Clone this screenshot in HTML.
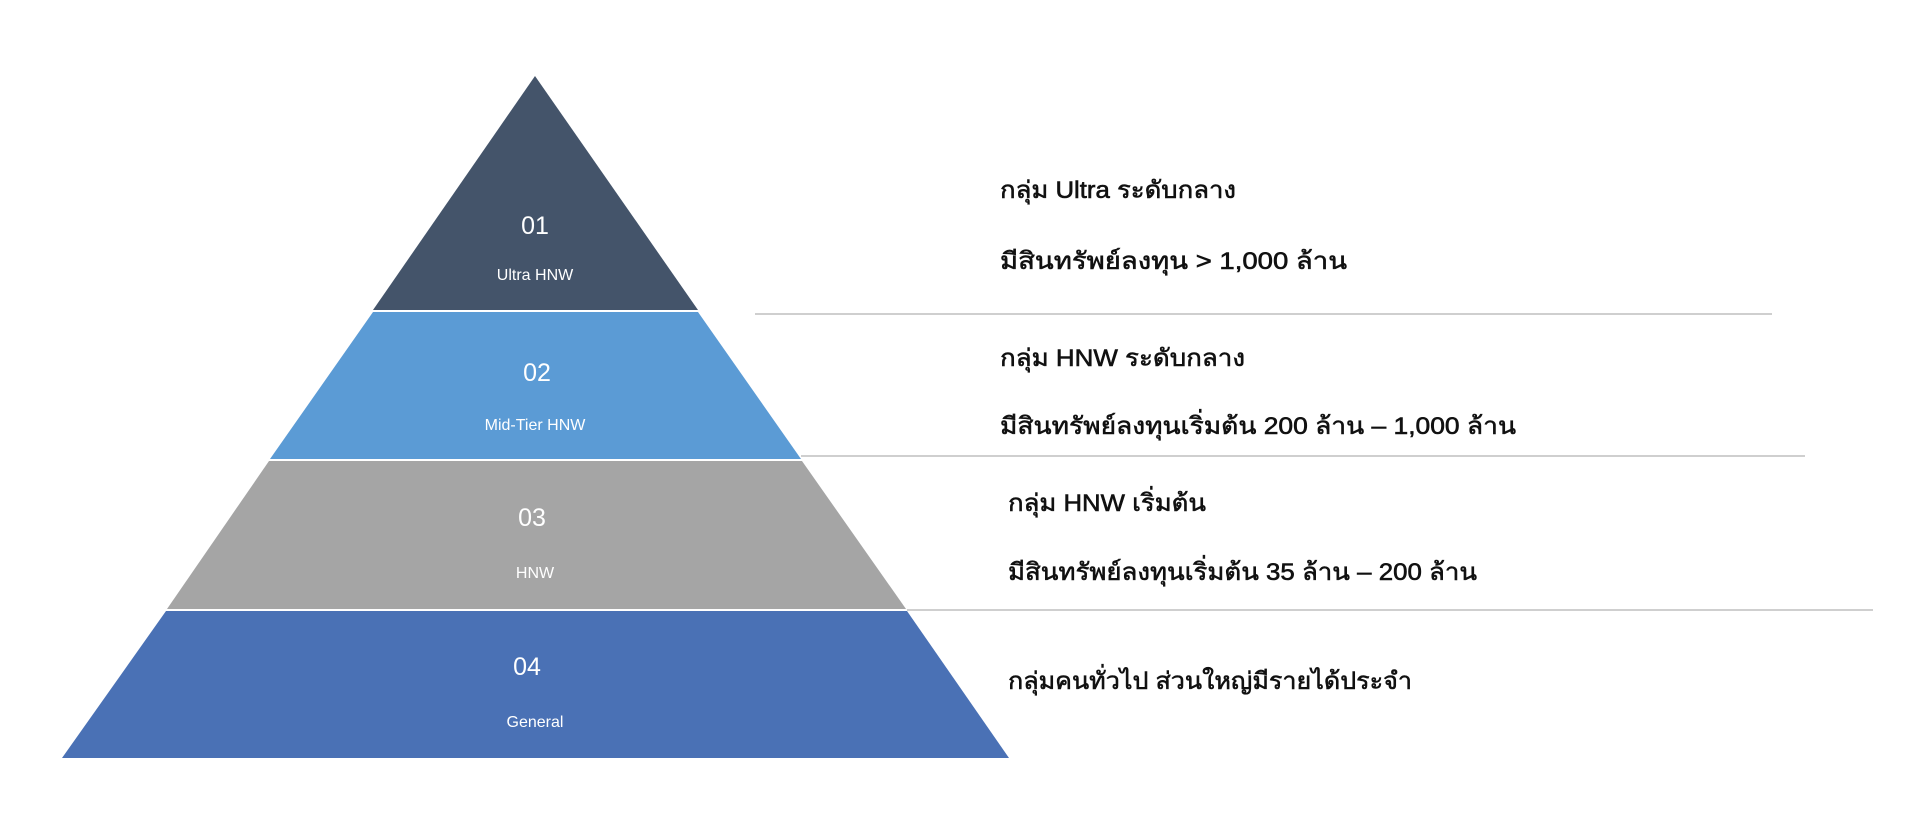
<!DOCTYPE html>
<html><head><meta charset="utf-8"><style>
html,body{margin:0;padding:0;background:#fff;width:1920px;height:828px;overflow:hidden}
svg{display:block}
.n{font-family:"Liberation Sans",sans-serif;fill:#fff;text-anchor:middle}
.t{font-family:"Liberation Sans","Noto Sans CJK SC",sans-serif;fill:#111;font-size:24px;font-weight:normal;stroke:#111;stroke-width:0.6}
</style></head><body>
<svg width="1920" height="828" viewBox="0 0 1920 828" xmlns="http://www.w3.org/2000/svg">
<polygon points="535,76 698,310 373,310" fill="#44546a"/>
<polygon points="373,312 698,312 801,459 270,459" fill="#5b9bd5"/>
<polygon points="269,461 802,461 906,609 167,609" fill="#a5a5a5"/>
<polygon points="166,611 907,611 1009,758 62,758" fill="#4a71b5"/>
<line x1="755" y1="314" x2="1772" y2="314" stroke="#cfcfcf" stroke-width="2"/>
<line x1="801" y1="456" x2="1805" y2="456" stroke="#cfcfcf" stroke-width="2"/>
<line x1="907" y1="610" x2="1873" y2="610" stroke="#cfcfcf" stroke-width="2"/>
<text class="n" x="535" y="234" font-size="25">01</text>
<text class="n" x="535" y="280" font-size="16">Ultra HNW</text>
<text class="n" x="537" y="381" font-size="25">02</text>
<text class="n" x="535" y="430" font-size="16">Mid-Tier HNW</text>
<text class="n" x="532" y="526" font-size="25">03</text>
<text class="n" x="535" y="578" font-size="16">HNW</text>
<text class="n" x="527" y="675" font-size="25">04</text>
<text class="n" x="535" y="727" font-size="16">General</text>
<text class="t" x="1000" y="198" textLength="236" lengthAdjust="spacingAndGlyphs">กลุ่ม Ultra ระดับกลาง</text>
<text class="t" x="1000" y="269" textLength="347" lengthAdjust="spacingAndGlyphs">มีสินทรัพย์ลงทุน &gt;  1,000  ล้าน</text>
<text class="t" x="1000" y="366" textLength="245" lengthAdjust="spacingAndGlyphs">กลุ่ม HNW ระดับกลาง</text>
<text class="t" x="1000" y="434" textLength="516" lengthAdjust="spacingAndGlyphs">มีสินทรัพย์ลงทุนเริ่มต้น 200 ล้าน – 1,000  ล้าน</text>
<text class="t" x="1008" y="511" textLength="198" lengthAdjust="spacingAndGlyphs">กลุ่ม HNW เริ่มต้น</text>
<text class="t" x="1008" y="580" textLength="469" lengthAdjust="spacingAndGlyphs">มีสินทรัพย์ลงทุนเริ่มต้น 35 ล้าน – 200 ล้าน</text>
<text class="t" x="1008" y="689" textLength="404" lengthAdjust="spacingAndGlyphs">กลุ่มคนทั่วไป ส่วนใหญ่มีรายได้ประจำ</text>
</svg>
</body></html>
